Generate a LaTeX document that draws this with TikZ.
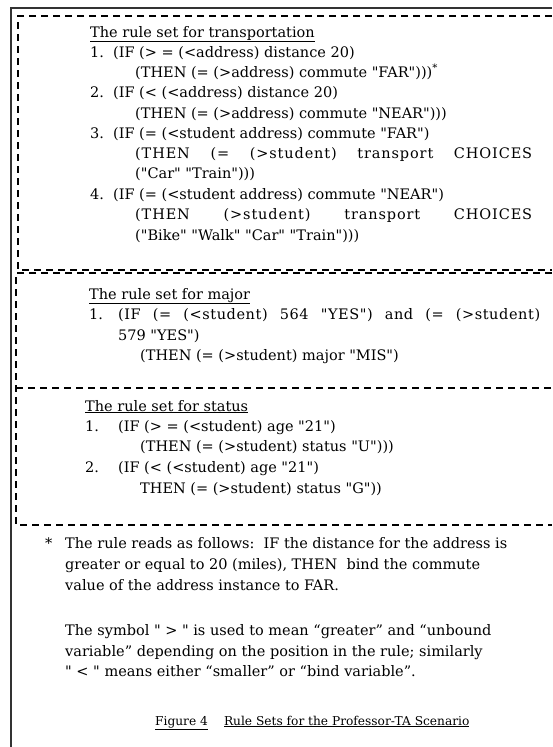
\documentclass[tikz,border=0pt]{standalone}
\usepackage{fontspec}
\setmainfont{DejaVu Serif}[Ligatures=TeXOff]
\usepackage{tikz}

\newcommand{\spreadline}[3]{\makebox[#1][s]{\addfontfeatures{LetterSpace=#2}#3}}

\tikzset{
	txtline/.style={anchor=base west, inner sep=0pt, font=\fontsize{14.5}{17}\selectfont},
	rulebox/.style={line width=1.2pt, dash pattern=on 7pt off 5pt},
}

\begin{document}
\begin{tikzpicture}[x=1pt,y=-1pt]
	\useasboundingbox (0,0) rectangle (552,747);
	\draw[line width=1.3pt,black!80] (552,8) -- (11,8) -- (11,747);
	
	\draw[rulebox] (552,16) -- (18,16) -- (18,270) -- (552,270);
	\draw[rulebox] (552,273) -- (16,273) -- (16,525) -- (552,525);
	\draw[rulebox] (16,388) -- (552,388);
	
	% transportation
	\foreach \name/\xpos/\ypos/\txt in {
		trhead/90/37/{\underline{The rule set for transportation}},
		trnoa/90/57/{1.}, tra/113/57/{(IF (> = (<address) distance 20)},
		trb/135/77/{(THEN (= (>address) commute "FAR")))\textsuperscript{*}},
		trnoc/90/97/{2.}, trc/113/97/{(IF (< (<address) distance 20)},
		trd/135/118/{(THEN (= (>address) commute "NEAR")))},
		trnoe/90/138/{3.}, tre/113/138/{(IF (= (<student address) commute "FAR")},
		trf/135/158/{\spreadline{397pt}{6}{(THEN (= (>student) transport CHOICES}},
		trg/135/178/{("Car" "Train")))},
		trnoh/90/199/{4.}, trh/113/199/{(IF (= (<student address) commute "NEAR")},
		tri/135/219/{\spreadline{397pt}{6}{(THEN (>student) transport CHOICES}},
		trj/135/240/{("Bike" "Walk" "Car" "Train")))}}
	\node[txtline] (\name) at (\xpos,\ypos) {\txt};
	
	% major
	\foreach \name/\xpos/\ypos/\txt in {
		mjhead/89/299/{\underline{The rule set for major}},
		mjnoa/89/319/{1.}, mja/118/319/{\spreadline{422pt}{4}{(IF (= (<student) 564 "YES") and (= (>student)}},
		mjb/118/340/{579 "YES")},
		mjc/140/360/{(THEN (= (>student) major "MIS")}}
	\node[txtline] (\name) at (\xpos,\ypos) {\txt};
	
	% status
	\foreach \name/\xpos/\ypos/\txt in {
		sthead/85/411/{\underline{The rule set for status}},
		stnoa/85/431/{1.}, sta/118/431/{(IF (> = (<student) age "21")},
		stb/140/451/{(THEN (= (>student) status "U")))},
		stnoc/85/472/{2.}, stc/118/472/{(IF (< (<student) age "21")},
		std/140/493/{THEN (= (>student) status "G"))}}
	\node[txtline] (\name) at (\xpos,\ypos) {\txt};
	
	% notes
	\foreach \name/\xpos/\ypos/\txt in {
		star/45/548/{*},
		fna/65/548/{The rule reads as follows:\ \ IF the distance for the address is},
		fnb/65/569/{greater or equal to 20 (miles), THEN\ \ bind the commute},
		fnc/65/590/{value of the address instance to FAR.},
		nta/65/635/{The symbol " > " is used to mean “greater” and “unbound},
		ntb/65/656/{variable” depending on the position in the rule; similarly},
		ntc/65/676/{" < " means either “smaller” or “bind variable”.}}
	\node[txtline] (\name) at (\xpos,\ypos) {\txt};
	
	\node[txtline, font=\fontsize{12.2}{15}\selectfont] (caption) at (155,725)
		{\underline{Figure 4}\quad\ \underline{Rule Sets for the Professor-TA Scenario}};
\end{tikzpicture}
\end{document}
